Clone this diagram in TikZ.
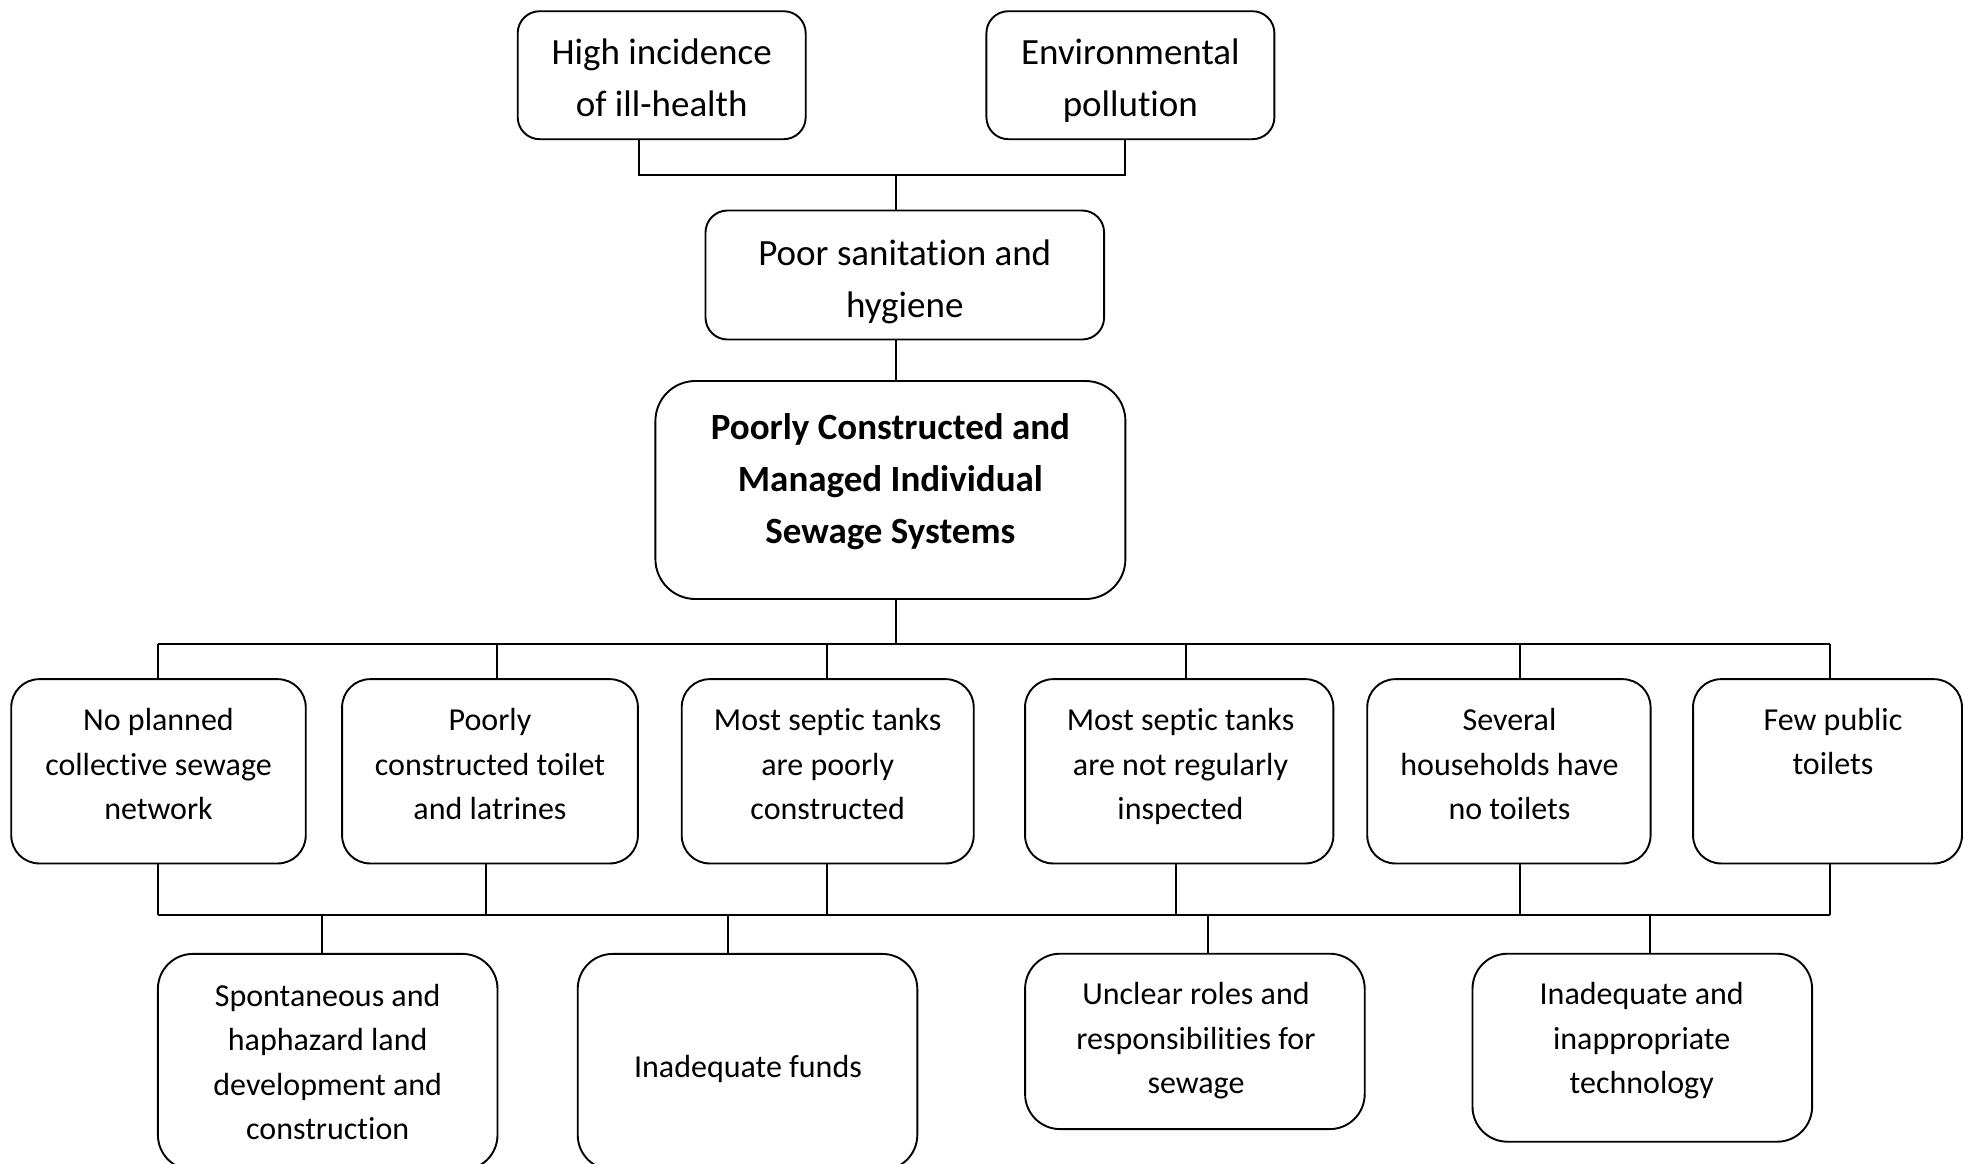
\documentclass[tikz,border=0pt]{standalone}
\usepackage{fontspec}
\setmainfont[Ligatures=NoCommon]{Carlito}
\newcommand\myst{\vphantom{Hgy}}
\tikzset{
  box/.style={draw, line width=1.9pt, inner sep=0pt, rounded corners=#1},
  box/.default=28pt,
  bigtxt/.style={align=center, inner sep=0pt, font=\fontsize{37}{52}\selectfont},
  smalltxt/.style={align=center, inner sep=0pt, font=\fontsize{32}{44.5}\selectfont},
  conn/.style={line width=2pt},
}
\begin{document}
\begin{tikzpicture}[x=1pt,y=-1pt]
\useasboundingbox (0,0) rectangle (1965,1163);
\clip (0,0) rectangle (1965,1163);
% top boxes
\node[box=22pt, minimum width=288pt, minimum height=128pt] (hi) at (661.7,75.2) {};
\node[bigtxt] (hiT) at (661.7,81) {\myst High incidence\\\myst of ill-health};
\node[box=22pt, minimum width=288pt, minimum height=128pt] (env) at (1130.4,75.2) {};
\node[bigtxt] (envT) at (1130.4,81) {\myst Environmental\\\myst pollution};
\node[box=22pt, minimum width=398.6pt, minimum height=129pt] (ps) at (904.8,275) {};
\node[bigtxt] (psT) at (904.8,281.8) {\myst Poor sanitation and\\\myst hygiene};
\node[box=40pt, minimum width=470pt, minimum height=218pt] (main) at (890.4,490) {};
\node[bigtxt, font=\fontsize{37}{52}\selectfont\bfseries] (mainT) at (890.4,482) {\myst Poorly Constructed and\\Managed Individual\\\myst Sewage Systems};
% middle boxes
\node[box, minimum width=294.5pt, minimum height=184.3pt] (m1) at (158.5,771.3) {};
\node[smalltxt] (m1T) at (158.5,767) {\myst No planned\\collective sewage\\\myst network};
\node[box, minimum width=295.8pt, minimum height=184.3pt] (m2) at (490,771.3) {};
\node[smalltxt] (m2T) at (490,767) {\myst Poorly\\constructed toilet\\\myst and latrines};
\node[box, minimum width=292pt, minimum height=184.3pt] (m3) at (827.7,771.3) {};
\node[smalltxt] (m3T) at (827.7,767) {\myst Most septic tanks\\are poorly\\\myst constructed};
\node[box, minimum width=308.3pt, minimum height=184.3pt] (m4) at (1179.2,771.3) {};
\node[smalltxt] (m4T) at (1180.5,767) {\myst Most septic tanks\\are not regularly\\\myst inspected};
\node[box, minimum width=283.3pt, minimum height=184.3pt] (m5) at (1508.9,771.3) {};
\node[smalltxt] (m5T) at (1509.5,767) {\myst Several\\households have\\\myst no toilets};
\node[box, minimum width=268.9pt, minimum height=184.3pt] (m6) at (1827.5,771.3) {};
\node[smalltxt] (m6T) at (1833,744) {\myst Few public\\\myst toilets};
% lower boxes
\node[box=35pt, minimum width=339.6pt, minimum height=216pt] (l1) at (327.7,1061.9) {};
\node[smalltxt] (l1T) at (327.7,1064.5) {\myst Spontaneous and\\haphazard land\\development and\\\myst construction};
\node[box=35pt, minimum width=339.6pt, minimum height=216pt] (l2) at (747.5,1061.9) {};
\node[smalltxt] (l2T) at (748,1069) {\myst Inadequate funds};
\node[box=35pt, minimum width=339.6pt, minimum height=175.4pt] (l3) at (1194.9,1041.4) {};
\node[smalltxt] (l3T) at (1196,1041) {\myst Unclear roles and\\responsibilities for\\\myst sewage};
\node[box=35pt, minimum width=339.6pt, minimum height=188pt] (l4) at (1642.3,1047.7) {};
\node[smalltxt] (l4T) at (1641.7,1041) {\myst Inadequate and\\inappropriate\\\myst technology};
% coordinates for connectors
\coordinate (t1) at (639,175);
\coordinate (t0) at (896,175);
\coordinate (t2) at (1125,175);
\coordinate (b0) at (896,644);
\coordinate (d1) at (158,644);
\coordinate (d2) at (497,644);
\coordinate (d3) at (827,644);
\coordinate (d4) at (1186,644);
\coordinate (d5) at (1520,644);
\coordinate (d6) at (1830,644);
\coordinate (e1) at (158,915);
\coordinate (e2) at (486,915);
\coordinate (e3) at (827,915);
\coordinate (e4) at (1176,915);
\coordinate (e5) at (1520,915);
\coordinate (e6) at (1830,915);
\coordinate (f1) at (322,915);
\coordinate (f2) at (728,915);
\coordinate (f3) at (1208,915);
\coordinate (f4) at (1650,915);
% top connectors
\draw[conn] (hi.south -| t1) -- (t1) -- (t2) -- (env.south -| t2);
\draw[conn] (t0) -- (ps.north -| t0);
\draw[conn] (ps.south -| t0) -- (main.north -| t0);
\draw[conn] (main.south -| b0) -- (b0);
% upper bus
\draw[conn] (d1) -- (d6);
\draw[conn] (d1) -- (m1.north -| d1);
\draw[conn] (d2) -- (m2.north -| d2);
\draw[conn] (d3) -- (m3.north -| d3);
\draw[conn] (d4) -- (m4.north -| d4);
\draw[conn] (d5) -- (m5.north -| d5);
\draw[conn] (d6) -- (m6.north -| d6);
% lower bus
\draw[conn] (e1) -- (e6);
\draw[conn] (m1.south -| e1) -- (e1);
\draw[conn] (m2.south -| e2) -- (e2);
\draw[conn] (m3.south -| e3) -- (e3);
\draw[conn] (m4.south -| e4) -- (e4);
\draw[conn] (m5.south -| e5) -- (e5);
\draw[conn] (m6.south -| e6) -- (e6);
\draw[conn] (f1) -- (l1.north -| f1);
\draw[conn] (f2) -- (l2.north -| f2);
\draw[conn] (f3) -- (l3.north -| f3);
\draw[conn] (f4) -- (l4.north -| f4);
\end{tikzpicture}
\end{document}
